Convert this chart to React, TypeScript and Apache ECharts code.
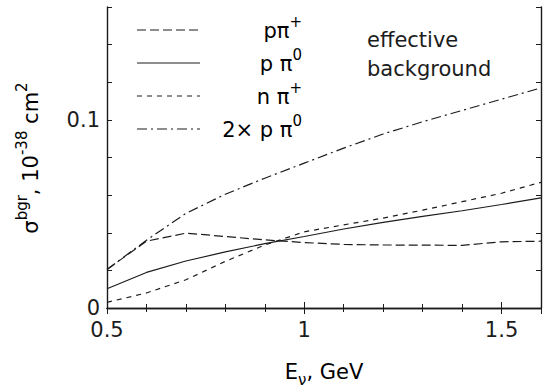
import React, { useEffect, useRef } from "react";
import * as echarts from "echarts";

const energies = [0.5, 0.6, 0.7, 0.8, 0.9, 1.0, 1.1, 1.2, 1.3, 1.4, 1.5, 1.6];
const pPiPlus = [0.0205, 0.0355, 0.0398, 0.038, 0.0362, 0.0348, 0.0338, 0.0335, 0.0334, 0.0333, 0.0352, 0.0355];
const pPi0 = [0.0102, 0.0189, 0.025, 0.0298, 0.0342, 0.038, 0.042, 0.0455, 0.0487, 0.0517, 0.055, 0.0585];
const nPiPlus = [0.003, 0.008, 0.015, 0.0248, 0.0335, 0.0405, 0.0442, 0.0478, 0.052, 0.0565, 0.061, 0.0668];
const twoPPi0 = [0.0205, 0.036, 0.0503, 0.0605, 0.069, 0.077, 0.085, 0.0925, 0.099, 0.105, 0.111, 0.117];

const xTickLabels = ["0.5", "1", "1.5"];
const yTickLabels = ["0", "0.1"];

const FONT = "'DejaVu Sans', 'Liberation Sans', Arial, sans-serif";
const INK = "#1c1c1c";
const FS = 21;

const legendRows = [
  { text: "{a|pπ}{s|+}", dash: [9, 4] as number[] | null },
  { text: "{a|p π}{s|0}", dash: null },
  { text: "{a|n π}{s|+}", dash: [5, 5] },
  { text: "{a|2× p π}{s|0}", dash: [10, 4, 2, 4] },
];

const supRich = {
  a: { fontSize: FS, lineHeight: 34, fontFamily: FONT, color: INK, verticalAlign: "middle" },
  s: { fontSize: 15, lineHeight: 15, fontFamily: FONT, color: INK, verticalAlign: "top" },
};

export default function App() {
  const ref = useRef<HTMLDivElement>(null);
  useEffect(() => {
    if (!ref.current) return;
    const chart = echarts.init(ref.current, null, { renderer: "svg" });
    const mk = (name: string, vals: number[], dash: any) => ({
      name,
      type: "line",
      data: energies.map((e, i) => [e, vals[i]]),
      symbol: "none",
      lineStyle: { color: INK, width: 1.2, type: dash },
      xAxisIndex: 0,
      yAxisIndex: 0,
    });
    const axisLine = { show: true, lineStyle: { color: INK, width: 1.4 } };
    const xCommon = {
      type: "value",
      min: 0.5,
      max: 1.6,
      interval: 0.5,
      axisLine,
      axisTick: { show: true, inside: true, length: 6, lineStyle: { color: INK, width: 1 } },
      minorTick: { show: true, splitNumber: 5, length: 4, lineStyle: { color: INK, width: 1 } },
      splitLine: { show: false },
      minorSplitLine: { show: false },
    };
    const yCommon = {
      type: "value",
      min: 0,
      max: 0.16,
      interval: 0.02,
      axisLine,
      axisTick: { show: true, inside: true, length: 5, lineStyle: { color: INK, width: 1 } },
      splitLine: { show: false },
    };
    const legendGraphics: any[] = [];
    legendRows.forEach((r, i) => {
      const y = 30 + i * 33;
      legendGraphics.push({
        type: "line",
        shape: { x1: 137, y1: y, x2: 200, y2: y },
        style: { stroke: INK, lineWidth: 1.2, lineDash: r.dash || undefined },
      });
      legendGraphics.push({
        type: "text",
        x: 302,
        y: y + 1,
        style: { text: r.text, rich: supRich, align: "right", verticalAlign: "middle" },
      });
    });
    chart.setOption({
      animation: false,
      grid: { left: 107, right: 5, top: 7, bottom: 81, containLabel: false },
      xAxis: [
        {
          ...xCommon,
          position: "bottom",
          axisLabel: {
            show: true,
            margin: 11,
            fontSize: FS,
            fontFamily: FONT,
            color: INK,
            formatter: (v: number) => {
              const idx = [0.5, 1, 1.5].findIndex((t) => Math.abs(t - v) < 1e-6);
              return idx >= 0 ? xTickLabels[idx] : "";
            },
          },
        },
        { ...xCommon, position: "top", axisLabel: { show: false } },
      ],
      yAxis: [
        {
          ...yCommon,
          position: "left",
          axisLabel: {
            show: true,
            margin: 7,
            fontSize: FS,
            fontFamily: FONT,
            color: INK,
            formatter: (v: number) => {
              const idx = [0, 0.1].findIndex((t) => Math.abs(t - v) < 1e-6);
              return idx >= 0 ? yTickLabels[idx] : "";
            },
          },
        },
        { ...yCommon, position: "right", axisLabel: { show: false } },
      ],
      series: [
        mk("pπ+", pPiPlus, [9, 4]),
        mk("p π0", pPi0, "solid"),
        mk("n π+", nPiPlus, [5, 5]),
        mk("2× p π0", twoPPi0, [10, 4, 2, 4]),
      ],
      graphic: [
        ...legendGraphics,
        {
          type: "text",
          x: 367,
          y: 40,
          style: { text: "effective", fontSize: FS, fontFamily: FONT, fill: INK, align: "left", verticalAlign: "middle" },
        },
        {
          type: "text",
          x: 367,
          y: 69,
          style: { text: "background", fontSize: FS, fontFamily: FONT, fill: INK, align: "left", verticalAlign: "middle" },
        },
        {
          type: "text",
          x: 31,
          y: 158,
          rotation: Math.PI / 2,
          style: {
            text: "{a|σ}{s|bgr}{a|, 10}{s|-38}{a| cm}{s|2}",
            rich: supRich,
            align: "center",
            verticalAlign: "middle",
          },
        },
        {
          type: "text",
          x: 324,
          y: 372,
          style: {
            text: "{a|E}{b|ν}{a|, GeV}",
            rich: {
              a: { fontSize: FS, lineHeight: 30, fontFamily: FONT, color: INK, verticalAlign: "middle" },
              b: { fontSize: 15, lineHeight: 15, fontFamily: FONT, color: INK, verticalAlign: "bottom" },
            },
            align: "center",
            verticalAlign: "middle",
          },
        },
      ],
    });
    return () => chart.dispose();
  }, []);
  return (
    <div
      ref={ref}
      style={{ position: "fixed", left: 0, top: 0, width: 546, height: 389, background: "#fff" }}
    />
  );
}
